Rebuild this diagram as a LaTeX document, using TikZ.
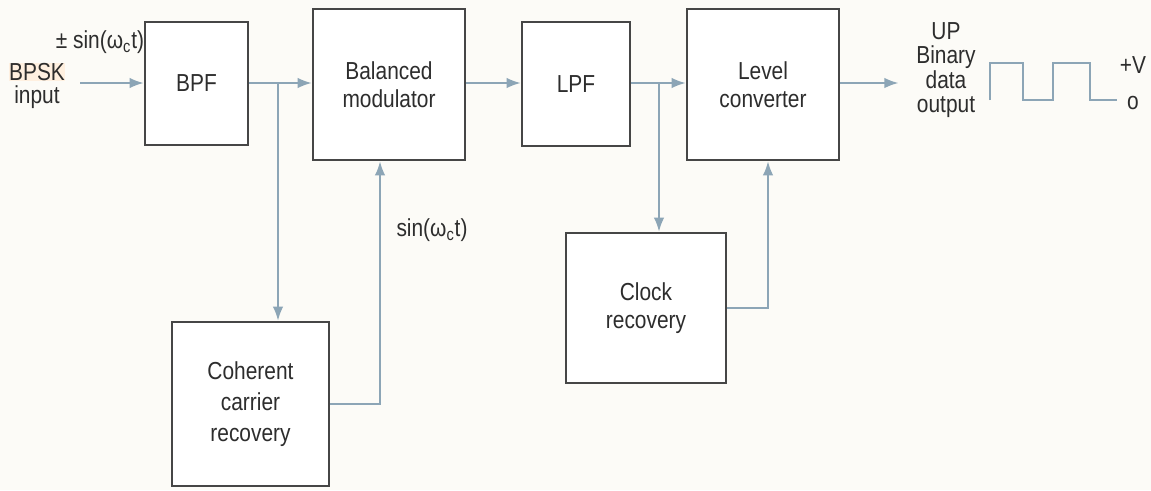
\documentclass[tikz,border=0pt]{standalone}
\usepackage{fontspec}
\setmainfont{Liberation Sans}[FakeStretch=0.85]
\usetikzlibrary{positioning, arrows.meta}
\definecolor{bgcol}{RGB}{252,251,247}
\definecolor{linecol}{RGB}{140,165,182}
\definecolor{boxcol}{RGB}{70,70,70}
\definecolor{txtcol}{RGB}{45,45,45}

\begin{document}
\begin{tikzpicture}[
    x=0.02cm, y=-0.02cm,
    block/.style={draw=boxcol, line width=1.5pt, fill=white, align=center,
                  text=txtcol, font=\fontsize{14}{16}\selectfont},
    arrow/.style={-{Latex[length=8pt, width=6pt]}, draw=linecol, line width=1.1pt},
    wire/.style={draw=linecol, line width=1.1pt},
    lbl/.style={text=txtcol, align=center, inner sep=1pt,
                font=\fontsize{14}{14}\selectfont},
]

% background sets the frame
\fill[bgcol] (0,0) rectangle (1151,490);
\useasboundingbox (0,0) rectangle (1151,490);

% upper chain
\node[block, minimum width=2.06cm, minimum height=2.46cm] (bpf) at (196.5,83.5) {BPF};
\node[block, minimum width=3.04cm, minimum height=3.02cm] (bal) at (389,84.5)
    {Balanced\\modulator};
\node[block, minimum width=2.16cm, minimum height=2.48cm] (lpf) at (576,84) {LPF};
\node[block, minimum width=3.04cm, minimum height=3.02cm] (lev) at (763,84.5)
    {Level\\converter};

% recovery blocks
\node[block, minimum width=3.14cm, minimum height=3.28cm,
      font=\fontsize{14}{17.5}\selectfont] (coh) at (250.5,404)
    {Coherent\\carrier\\recovery};
\node[block, minimum width=3.2cm, minimum height=3.0cm] (clk) at (646,308)
    {Clock\\recovery};

% labels
\node[lbl, fill=orange!12, inner sep=0pt] (bpsk) at (37,72) {BPSK};
\node[lbl] (inp) at (37,97) {input};
\node[lbl] (carr) at (100,42) {± sin(ω\textsubscript{c}t)};
\node[lbl] (sinl) at (432,230) {sin(ω\textsubscript{c}t)};
\node[lbl, inner xsep=10pt] (outl) at (946,70)
    {UP\\Binary\\data\\output};
\node[lbl] (pv) at (1133,65) {+V};
\node[lbl] (zero) at (1133,103) {o};

% branch points
\coordinate (src) at (80,83);
\coordinate (br1) at (278,83);
\coordinate (br2) at (659,83);

% connectors
\draw[arrow] (src) -- (bpf.west |- src);
\draw[arrow] (bpf.east |- src) -- (bal.west |- src);
\draw[arrow] (br1) -- (br1 |- coh.north);
\draw[arrow] (coh.east) -| ([xshift=-0.18cm]bal.south);
\draw[arrow] (bal.east |- src) -- (lpf.west |- src);
\draw[arrow] (lpf.east |- src) -- (lev.west |- src);
\draw[arrow] (br2) -- (br2 |- clk.north);
\draw[arrow] (clk.east) -| ([xshift=0.1cm]lev.south);
\draw[arrow] (lev.east |- src) -- (outl.west |- src);

% output waveform
\draw[wire] (990,100) -- (990,63) -- (1023,63) -- (1023,100) -- (1053,100)
    -- (1053,63) -- (1090,63) -- (1090,100) -- (1117,100);

\end{tikzpicture}
\end{document}
